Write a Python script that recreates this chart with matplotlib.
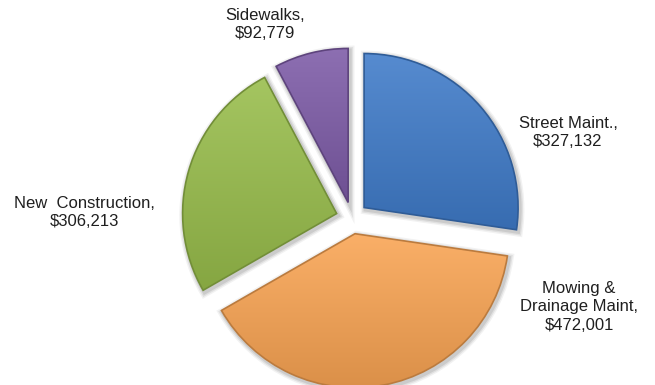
import numpy as np
import matplotlib.pyplot as plt
from matplotlib.colors import to_rgb
from matplotlib.patches import Wedge

# budget split by category
labels = ["Street Maint.,\n$327,132",
          "Mowing &\nDrainage Maint,\n$472,001",
          "New  Construction,\n$306,213",
          "Sidewalks,\n$92,779"]
values = [327132, 472001, 306213, 92779]
colors = ["#3f7bc9", "#f9a453", "#98bd4b", "#7d5ba7"]

# label anchor points (pixels, y measured from top)
label_pos = [(568, 132), (579, 307), (84, 212), (265, 24)]

W, H = 655, 385
fig = plt.figure(figsize=(W / 100, H / 100), dpi=100)
ax = fig.add_axes([0, 0, 1, 1])

cx, cy, r = 352, H - 218, 154
# pie() applies explode as an absolute offset in data units
wedges, _ = ax.pie(values, explode=[16] * len(values), startangle=90,
                   counterclock=False, center=(cx, cy), radius=r,
                   colors=colors, wedgeprops=dict(linewidth=0))

def shade(c, f):
    c = np.array(to_rgb(c))
    if f > 0:
        return c + (1 - c) * f
    return c * (1 + f)

for w, c in zip(wedges, colors):
    w.set_facecolor("none")
    w.set_zorder(3)
    w.set_edgecolor(shade(c, -0.25))
    w.set_linewidth(1.2)

    # soft drop shadow
    for k, a in [(3.5, 0.05), (2.5, 0.07), (1.5, 0.09)]:
        s = Wedge((w.center[0] + 1.5, w.center[1] - 2), w.r, w.theta1, w.theta2,
                  facecolor="none", edgecolor="k", linewidth=k * 2, alpha=a, zorder=1)
        ax.add_patch(s)

    # vertical gradient fill, lighter at the top
    x0, y0, x1, y1 = w.get_path().get_extents().extents
    top, bot = shade(c, 0.12), shade(c, -0.12)
    t = np.linspace(0, 1, 64)[:, None]
    grad = (bot[None, :] * (1 - t) + top[None, :] * t)[:, None, :]
    im = ax.imshow(grad, extent=[x0, x1, y0, y1], origin="lower",
                   aspect="auto", interpolation="bilinear", zorder=2)
    im.set_clip_path(w)

for (x, y), txt in zip(label_pos, labels):
    ax.text(x, H - y, txt, ha="center", va="center", fontsize=12,
            family="Liberation Sans", color="#1f1f1f", linespacing=1.25)

ax.set_xlim(0, W)
ax.set_ylim(0, H)
ax.set_aspect("auto")
ax.axis("off")
fig.savefig("out.png", dpi=100, facecolor="white")
